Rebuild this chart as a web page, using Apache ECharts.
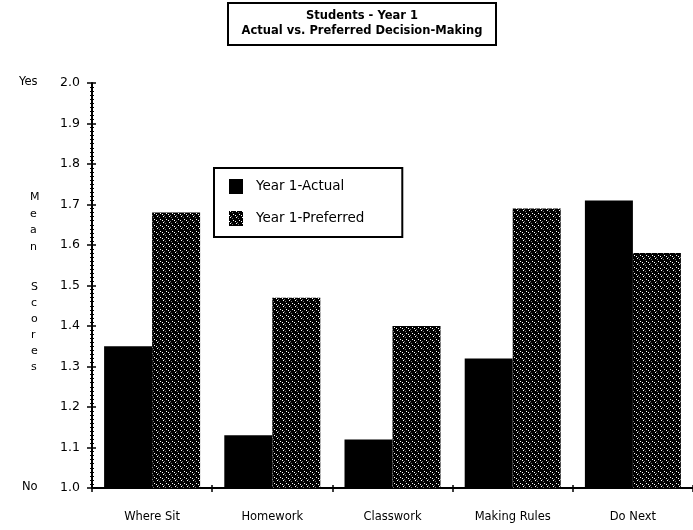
<!DOCTYPE html>
<html>
<head>
<meta charset="utf-8">
<script src="https://cdn.jsdelivr.net/npm/echarts@6/dist/echarts.min.js"></script>
<style>
  html, body { margin: 0; padding: 0; background: #fff; }
  #chart { width: 693px; height: 530px; }
</style>
</head>
<body>
<div id="chart"></div>
<script>
// Mean scores per decision area (1 = No, 2 = Yes)
const categories = ['Where Sit', 'Homework', 'Classwork', 'Making Rules', 'Do Next'];
const actualScores = [1.35, 1.13, 1.12, 1.32, 1.71];
const preferredScores = [1.68, 1.47, 1.40, 1.69, 1.58];
const seriesNames = ['Year 1-Actual', 'Year 1-Preferred'];
const titleLines = ['Students - Year 1', 'Actual vs. Preferred Decision-Making'];

// Stippled dark fill for the "preferred" bars
function stipple() {
  const c = document.createElement('canvas');
  c.width = 6; c.height = 6;
  const g = c.getContext('2d');
  g.fillStyle = '#000';
  g.fillRect(0, 0, 6, 6);
  g.fillStyle = '#fff';
  [[1, 0], [4, 3], [0, 4]].forEach(p => g.fillRect(p[0], p[1], 1, 1));
  g.fillStyle = '#777';
  [[3, 1], [2, 5]].forEach(p => g.fillRect(p[0], p[1], 1, 1));
  return c;
}

const font = 'DejaVu Sans';
const chart = echarts.init(document.getElementById('chart'), null, { renderer: 'canvas' });

const valueAxisBase = {
  type: 'value',
  min: 1.0,
  max: 2.0,
  interval: 0.1,
  splitLine: { show: false }
};

chart.setOption({
  backgroundColor: '#fff',
  animation: false,
  title: {
    text: titleLines.join('\n'),
    left: 348,
    top: 3,
    textAlign: 'center',
    padding: [6, 14, 6, 14],
    borderColor: '#000',
    borderWidth: 2,
    textStyle: { fontFamily: font, fontSize: 11.5, fontWeight: 'bold', color: '#000', lineHeight: 15 }
  },
  legend: {
    orient: 'vertical',
    left: 214,
    top: 168,
    padding: [11, 38, 11, 15],
    itemWidth: 14,
    itemHeight: 15,
    itemGap: 17,
    borderColor: '#000',
    borderWidth: 2,
    icon: 'rect',
    textStyle: { fontFamily: font, fontSize: 13.5, color: '#000', padding: [0, 0, 0, 8] },
    data: seriesNames
  },
  grid: { left: 92, top: 83, bottom: 42, width: 605, containLabel: false },
  xAxis: [{
    type: 'category',
    data: categories,
    axisLine: { lineStyle: { color: '#000', width: 2 } },
    axisTick: { show: true, length: 4, lineStyle: { color: '#000', width: 1.5 } },
    axisLabel: { fontFamily: font, fontSize: 11.5, color: '#000', margin: 23 }
  }, {
    type: 'category',
    data: categories,
    position: 'bottom',
    axisLine: { show: false },
    axisTick: { show: true, inside: true, length: 3, lineStyle: { color: '#000', width: 1.5 } },
    axisLabel: { show: false }
  }],
  yAxis: [Object.assign({}, valueAxisBase, {
    axisLine: { show: true, lineStyle: { color: '#000', width: 2 } },
    axisTick: { show: true, length: 5, lineStyle: { color: '#000', width: 1.5 } },
    minorTick: { show: true, splitNumber: 10, length: 2, lineStyle: { color: '#000' } },
    axisLabel: { fontFamily: font, fontSize: 12.5, color: '#000', margin: 12, formatter: v => v.toFixed(1) }
  }), Object.assign({}, valueAxisBase, {
    position: 'left',
    axisLine: { show: false },
    axisTick: { show: true, inside: true, length: 4, lineStyle: { color: '#000', width: 1.5 } },
    minorTick: { show: true, splitNumber: 10, length: 2, lineStyle: { color: '#000' } },
    axisLabel: { show: false }
  })],
  graphic: [
    { type: 'text', left: 19, top: 76, style: { text: 'Yes', fontFamily: font, fontSize: 11.5, fill: '#000' } },
    { type: 'text', left: 22, top: 481, style: { text: 'No', fontFamily: font, fontSize: 11.5, fill: '#000' } },
    { type: 'text', left: 30, top: 189, style: { text: 'M\ne\na\nn', fontFamily: font, fontSize: 11, lineHeight: 16.5, align: 'center', fill: '#000' } },
    { type: 'text', left: 31, top: 279, style: { text: 'S\nc\no\nr\ne\ns', fontFamily: font, fontSize: 11, lineHeight: 16, align: 'center', fill: '#000' } }
  ],
  series: [{
    name: seriesNames[0],
    type: 'bar',
    data: actualScores,
    barWidth: 48,
    barGap: '0%',
    itemStyle: { color: '#000' }
  }, {
    name: seriesNames[1],
    type: 'bar',
    data: preferredScores,
    barWidth: 48,
    barGap: '0%',
    itemStyle: { color: { image: stipple(), repeat: 'repeat' } }
  }]
});
</script>
</body>
</html>
